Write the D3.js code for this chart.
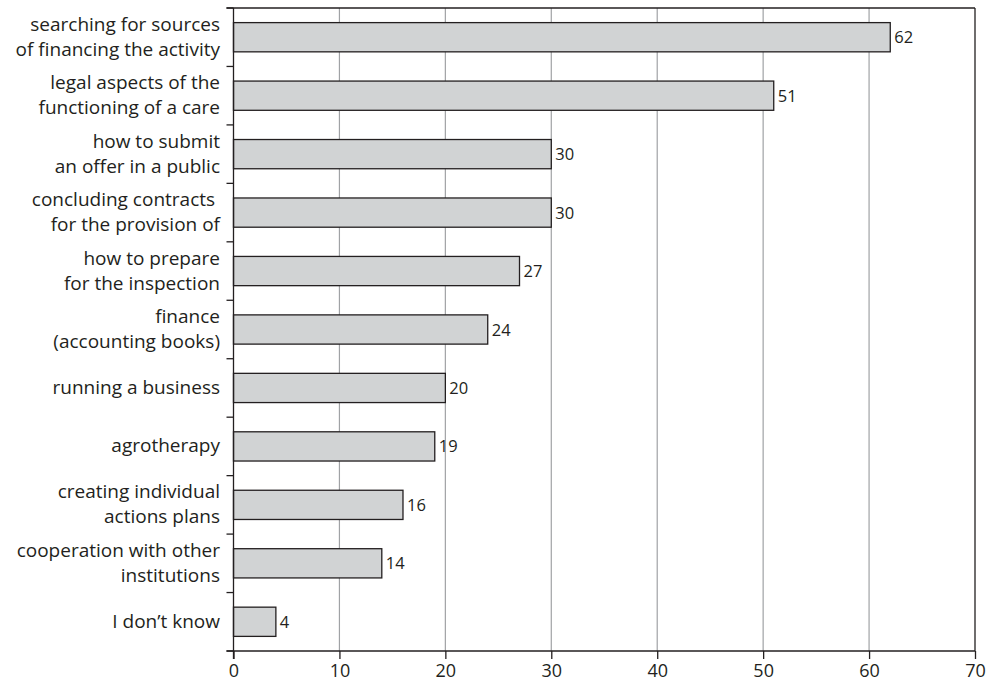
<!DOCTYPE html>
<html>
<head>
<meta charset="utf-8">
<script src="https://cdn.jsdelivr.net/npm/d3@7/dist/d3.min.js"></script>
<style>
  html, body { margin: 0; padding: 0; background: #fff; }
  svg { display: block; }
  text { font-family: "Open Sans", "Noto Sans", sans-serif; fill: #231f20; }
</style>
</head>
<body>
<svg id="chart" width="993" height="682"></svg>
<script>
// Training needs, number of responses per topic
const categories = [
  ["searching for sources", "of financing the activity"],
  ["legal aspects of the", "functioning of a care"],
  ["how to submit", "an offer in a public"],
  ["concluding contracts ", "for the provision of"],
  ["how to prepare", "for the inspection"],
  ["finance", "(accounting books)"],
  ["running a business"],
  ["agrotherapy"],
  ["creating individual", "actions plans"],
  ["cooperation with other", "institutions"],
  ["I don\u2019t know"]
];
const values = [62, 51, 30, 30, 27, 24, 20, 19, 16, 14, 4];
const xTicks = [0, 10, 20, 30, 40, 50, 60, 70];

const svg = d3.select("#chart");
const plotLeft = 233.5, plotRight = 975, plotTop = 8, plotBottom = 651;
const ink = "#231f20";

const keys = categories.map((c, i) => i);
const x = d3.scaleLinear().domain([0, 70]).range([plotLeft, plotRight]);
const y = d3.scaleBand().domain(keys).range([plotTop, plotBottom]).paddingInner(0.5).paddingOuter(0.25);
const step = y.step();

// vertical gridlines
svg.append("g").selectAll("line")
  .data(xTicks.filter(t => t > 0 && t < 70))
  .join("line")
  .attr("x1", d => x(d)).attr("x2", d => x(d))
  .attr("y1", plotTop).attr("y2", plotBottom)
  .attr("stroke", "#a0a2a5").attr("stroke-width", 1.2);

// bars
svg.append("g").selectAll("rect")
  .data(values)
  .join("rect")
  .attr("x", x(0))
  .attr("y", (d, i) => y(i))
  .attr("width", d => x(d) - x(0))
  .attr("height", y.bandwidth())
  .attr("fill", "#d1d3d4")
  .attr("stroke", ink)
  .attr("stroke-width", 1.3);

// frame: top and right edges
svg.append("line").attr("x1", plotLeft - 7).attr("x2", plotRight).attr("y1", plotTop).attr("y2", plotTop)
  .attr("stroke", ink).attr("stroke-width", 1.3);
svg.append("line").attr("x1", plotRight).attr("x2", plotRight).attr("y1", plotTop).attr("y2", plotBottom)
  .attr("stroke", ink).attr("stroke-width", 1.3);

// bottom axis
const xAxis = d3.axisBottom(x).tickValues(xTicks).tickSize(8).tickSizeOuter(0).tickPadding(5);
const gx = svg.append("g").attr("transform", `translate(0,${plotBottom})`).call(xAxis);
gx.select(".domain").attr("d", `M${plotLeft - 7},0H${plotRight}`).attr("stroke", ink).attr("stroke-width", 1.3);
gx.selectAll(".tick line").attr("stroke", ink).attr("stroke-width", 1.3);
gx.selectAll(".tick text").attr("font-size", 18).attr("fill", ink)
  .style("font-family", "'Open Sans', 'Noto Sans', sans-serif");

// left axis with ticks at the band boundaries
svg.append("line").attr("x1", plotLeft).attr("x2", plotLeft).attr("y1", plotTop).attr("y2", plotBottom + 8)
  .attr("stroke", ink).attr("stroke-width", 1.3);
svg.append("g").selectAll("line")
  .data(d3.range(keys.length + 1))
  .join("line")
  .attr("x1", plotLeft - 7).attr("x2", plotLeft)
  .attr("y1", i => plotTop + i * step).attr("y2", i => plotTop + i * step)
  .attr("stroke", ink).attr("stroke-width", 1.3);

// category labels, one text element per line
const labelGroups = svg.append("g").selectAll("g")
  .data(categories)
  .join("g");
labelGroups.each(function(lines, i) {
  const base = y(i) + y.bandwidth() / 2 + 6 - (lines.length - 1) * 12.5;
  d3.select(this).selectAll("text")
    .data(lines)
    .join("text")
    .attr("text-anchor", "end")
    .attr("font-size", 19)
    .attr("x", 220)
    .attr("y", (d, k) => base + k * 25)
    .style("white-space", "pre")
    .text(d => d);
});

// value labels
svg.append("g").selectAll("text")
  .data(values)
  .join("text")
  .attr("x", d => x(d) + 4)
  .attr("y", (d, i) => y(i) + y.bandwidth() / 2 + 6)
  .attr("font-size", 16.5)
  .text(d => d);
</script>
</body>
</html>
